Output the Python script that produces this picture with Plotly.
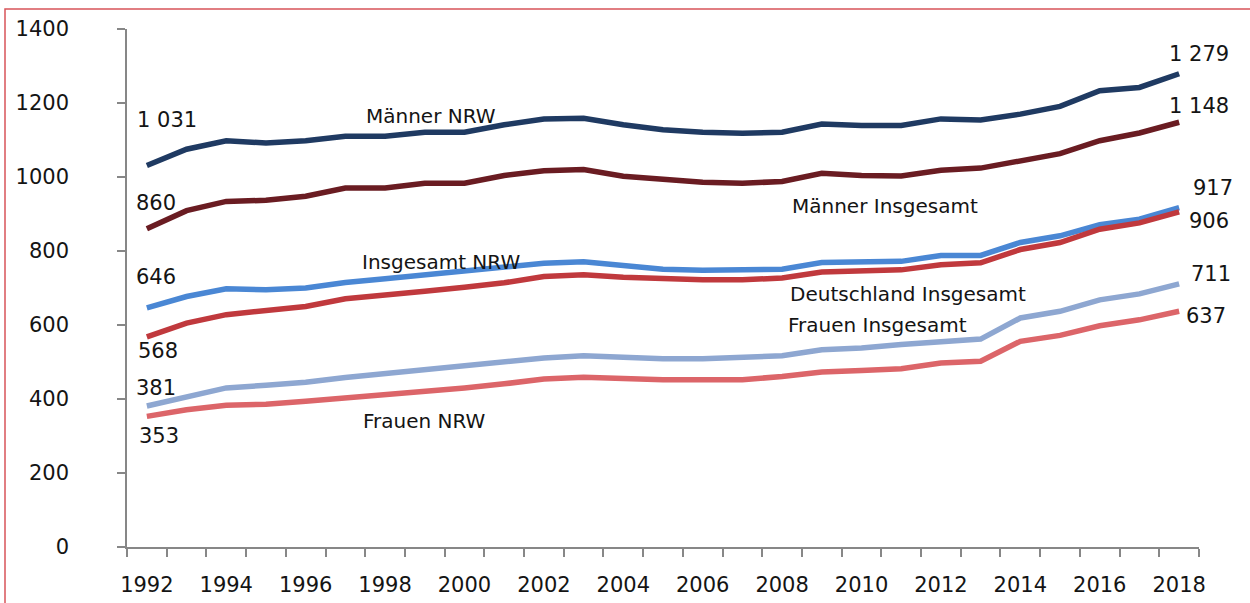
import plotly.graph_objects as go

# Jahre (Kategorien der x-Achse)
years = list(range(1992, 2019))

# Werte je Reihe, 1992 bis 2018
maenner_nrw = [1031, 1075, 1098, 1092, 1098, 1110, 1110, 1121, 1121, 1141,
               1157, 1159, 1141, 1128, 1121, 1118, 1121, 1143, 1139, 1139,
               1157, 1154, 1170, 1191, 1233, 1242, 1279]
maenner_insgesamt = [860, 909, 934, 937, 948, 970, 970, 983, 983, 1004,
                     1017, 1020, 1002, 993, 986, 983, 988, 1010, 1004, 1003,
                     1018, 1024, 1042, 1063, 1098, 1119, 1148]
insgesamt_nrw = [646, 677, 698, 695, 700, 715, 725, 735, 745, 758,
                 767, 771, 760, 751, 748, 748, 751, 769, 769, 772,
                 788, 788, 823, 841, 871, 886, 917]
deutschland_insgesamt = [568, 605, 628, 639, 650, 671, 680, 691, 702, 714,
                         731, 736, 729, 724, 722, 722, 727, 743, 745, 749,
                         763, 768, 804, 823, 859, 876, 906]
frauen_nrw = [381, 407, 430, 437, 445, 458, 468, 479, 490, 499,
              511, 517, 512, 509, 509, 512, 517, 533, 538, 547,
              556, 562, 619, 637, 668, 684, 711]
frauen_insgesamt = [353, 371, 383, 386, 394, 403, 410, 421, 430, 441,
                    454, 459, 454, 452, 452, 452, 461, 473, 477, 482,
                    497, 502, 556, 572, 598, 614, 637]

y_ticks = [0, 200, 400, 600, 800, 1000, 1200, 1400]
x_ticks = list(range(1992, 2019, 2))

FONT = "DejaVu Sans"
TEXT = "#141414"

series = [
    # (Werte, Farbe, Versatz Startwert (dx, dy), Versatz Endwert (dx, dy))
    (maenner_nrw, "#1f3a62", (-12, 46), (-12, 20)),
    (maenner_insgesamt, "#6a1c22", (-13, 26), (-12, 16)),
    (insgesamt_nrw, "#4a87d4", (-13, 31), (12, 20)),
    (deutschland_insgesamt, "#c0393d", (-11, -14), (8, -9)),
    (frauen_nrw, "#8ea7d1", (-13, 18), (10, 10)),
    (frauen_insgesamt, "#dc6569", (-10, -20), (5, -5)),
]


def fmt(v):
    return f"{v:,}".replace(",", " ")


fig = go.Figure()
annotations = []
for vals, color, start_off, end_off in series:
    fig.add_trace(go.Scatter(
        x=years, y=vals, mode="lines",
        line=dict(color=color, width=5.5),
        hoverinfo="x+y", showlegend=False,
    ))
    for x, v, (dx, dy) in ((years[0], vals[0], start_off),
                           (years[-1], vals[-1], end_off)):
        annotations.append(dict(
            x=x, y=v, xref="x", yref="y", text=fmt(v), showarrow=False,
            xanchor="left", yanchor="middle", xshift=dx, yshift=dy,
            font=dict(family=FONT, size=21, color=TEXT),
        ))

# Beschriftung der Reihen im Diagramm
series_names = [
    ("Männer NRW", 1999.15, 1165),
    ("Männer Insgesamt", 2010.6, 922),
    ("Insgesamt NRW", 1999.4, 771),
    ("Deutschland Insgesamt", 2011.16, 685),
    ("Frauen Insgesamt", 2010.4, 601),
    ("Frauen NRW", 1999.0, 341),
]
for name, x, y in series_names:
    annotations.append(dict(
        x=x, y=y, xref="x", yref="y", text=name, showarrow=False,
        xanchor="center", yanchor="middle",
        font=dict(family=FONT, size=20, color=TEXT),
    ))

AXIS = "#878787"

fig.update_layout(
    width=1250, height=603,
    margin=dict(l=127, r=51, t=29, b=56, autoexpand=False),
    paper_bgcolor="white", plot_bgcolor="white",
    font=dict(family=FONT, size=21, color=TEXT),
    annotations=annotations,
    xaxis=dict(
        range=[1991.5, 2018.5], tickmode="array", tickvals=x_ticks,
        ticks="", showgrid=False, zeroline=False, automargin=False,
        showline=True, linecolor=AXIS, linewidth=1.5,
        ticklabelstandoff=18,
        minor=dict(tick0=1991.5, dtick=1, ticks="outside", ticklen=8,
                   tickcolor=AXIS, tickwidth=1.5, showgrid=False),
        tickfont=dict(family=FONT, size=21, color=TEXT),
    ),
    yaxis=dict(
        range=[0, 1400], tickmode="array", tickvals=y_ticks,
        ticks="outside", ticklen=8, tickcolor=AXIS, tickwidth=1.5,
        showgrid=False, zeroline=False, automargin=False,
        showline=True, linecolor=AXIS, linewidth=1.5,
        ticklabelstandoff=44,
        tickfont=dict(family=FONT, size=21, color=TEXT),
    ),
    shapes=[dict(
        type="rect", xref="paper", yref="paper",
        x0=(5 - 127) / 1072, x1=(1260 - 127) / 1072,
        y0=(547 - 612) / 518, y1=(547 - 9) / 518,
        line=dict(color="#d8545a", width=1.5), layer="below",
    )],
)

fig.write_html("out.html")
